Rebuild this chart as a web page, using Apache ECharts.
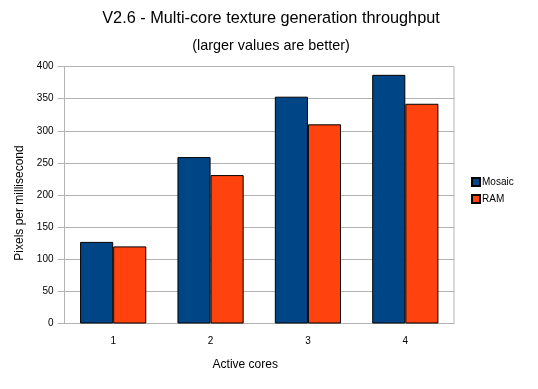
<!DOCTYPE html>
<html><head><meta charset="utf-8">
<script src="https://cdn.jsdelivr.net/npm/echarts@6/dist/echarts.min.js"></script>
<style>html,body{margin:0;padding:0;background:#fff}#c{width:538px;height:389px}</style>
</head><body><div id="c"></div>
<script>
const categories = ['1', '2', '3', '4'];
const mosaic = [127, 259, 353, 387];
const ram = [120, 231, 310, 342];
const yTicks = [0, 50, 100, 150, 200, 250, 300, 350, 400];

const chart = echarts.init(document.getElementById('c'), null, {renderer: 'canvas'});
const font = 'Liberation Sans, Arial, sans-serif';
chart.setOption({
  animation: false,
  backgroundColor: '#fff',
  textStyle: {fontFamily: font},
  title: [
    {text: 'V2.6 - Multi-core texture generation throughput', left: 266, textAlign: 'center', top: 6,
     textStyle: {fontSize: 16.3, fontWeight: 'normal', color: '#000', fontFamily: font}},
    {text: '(larger values are better)', left: 266, textAlign: 'center', top: 34,
     textStyle: {fontSize: 14.4, fontWeight: 'normal', color: '#000', fontFamily: font}}
  ],
  legend: {
    orient: 'vertical', left: 466, top: 172, itemWidth: 8, itemHeight: 8, itemGap: 7,
    textStyle: {fontSize: 10, color: '#000', fontFamily: font, padding: [0, 0, 0, -3]},
    data: [{name: 'Mosaic', icon: 'rect'}, {name: 'RAM', icon: 'rect'}]
  },
  grid: {left: 64.5, right: 84, top: 66.5, bottom: 65.5, show: true, borderColor: '#b3b3b3', borderWidth: 1},
  xAxis: {
    type: 'category', data: categories, name: 'Active cores', nameLocation: 'middle', nameGap: 35,
    nameTextStyle: {fontSize: 12, color: '#000', padding: [0, 28, 0, 0]},
    axisLine: {lineStyle: {color: '#b3b3b3'}},
    axisTick: {alignWithLabel: true, length: 5, lineStyle: {color: '#b3b3b3'}},
    axisLabel: {fontSize: 10, color: '#000', margin: 13}
  },
  yAxis: {
    type: 'value', min: 0, max: 400, interval: 50, name: 'Pixels per millisecond', nameLocation: 'middle', nameGap: 39,
    nameTextStyle: {fontSize: 12, color: '#000', padding: [0, 16, 0, 0]},
    axisLine: {show: true, lineStyle: {color: '#b3b3b3'}},
    axisTick: {show: true, length: 7, lineStyle: {color: '#b3b3b3'}},
    axisLabel: {fontSize: 10, color: '#000', margin: 11, formatter: v => yTicks.includes(v) ? String(v) : ''},
    splitLine: {lineStyle: {color: '#b3b3b3'}}
  },
  series: [
    {name: 'Mosaic', type: 'bar', data: mosaic, barGap: '0%', barCategoryGap: '32%',
     itemStyle: {color: '#004586', borderColor: '#000', borderWidth: 1}},
    {name: 'RAM', type: 'bar', data: ram,
     itemStyle: {color: '#ff420e', borderColor: '#000', borderWidth: 1}}
  ]
});
</script></body></html>
